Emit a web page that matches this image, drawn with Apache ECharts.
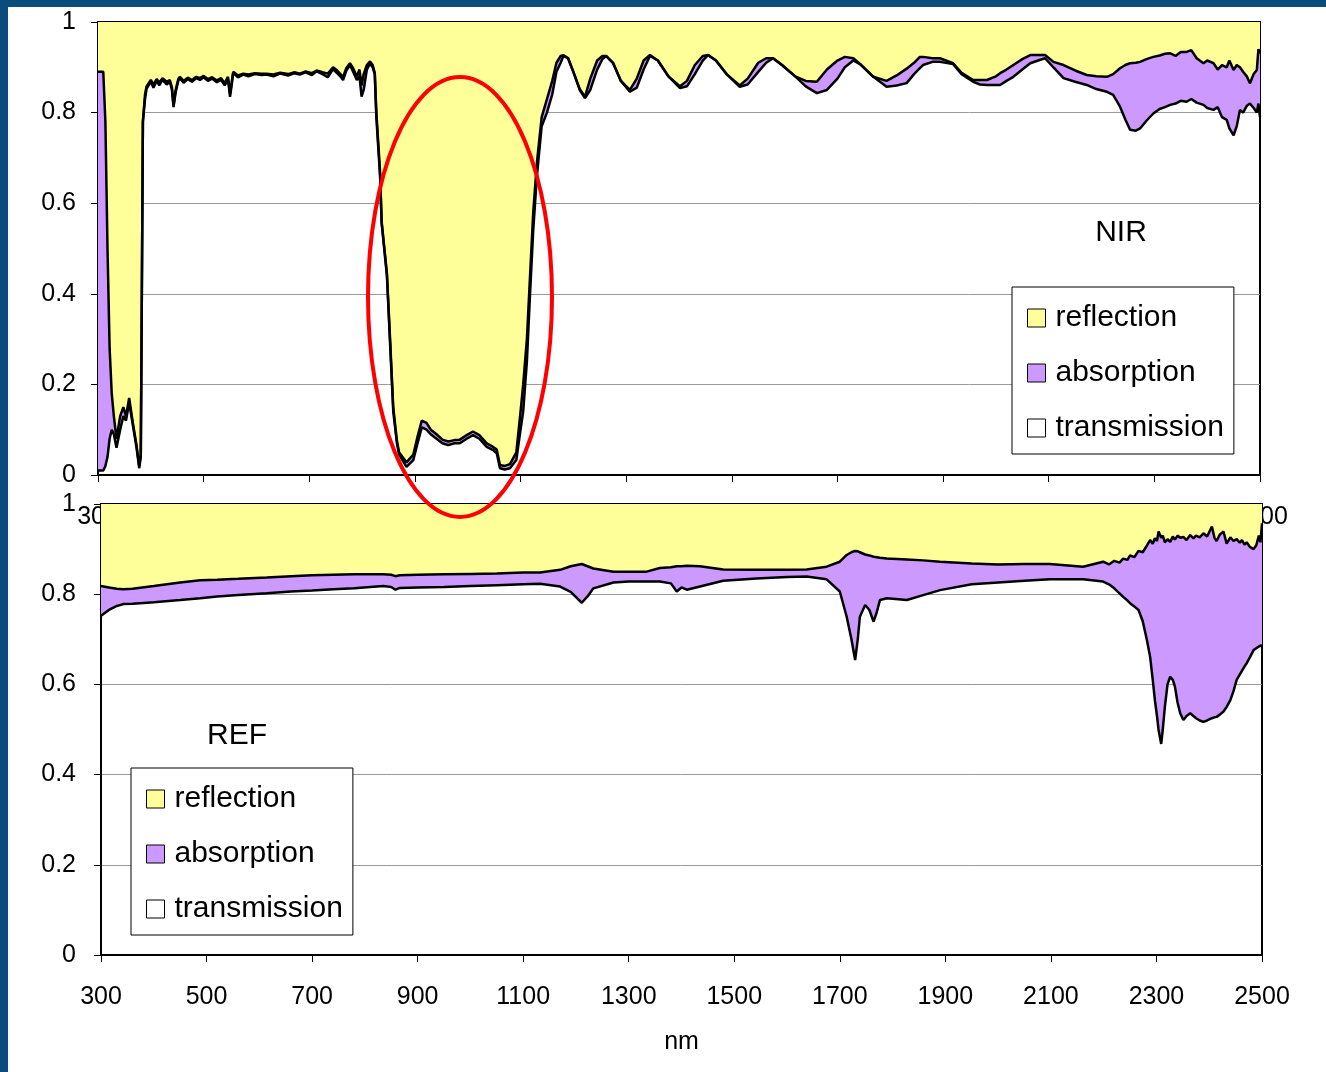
<!DOCTYPE html>
<html>
<head>
<meta charset="utf-8">
<script src="https://cdn.jsdelivr.net/npm/echarts@6/dist/echarts.min.js"></script>
<style>
  html, body { margin: 0; padding: 0; background: #fff; }
  .chart { position: absolute; left: 0; top: 0; width: 1326px; height: 1072px; }
</style>
</head>
<body>
<div id="nirChart" class="chart"></div>
<div id="refChart" class="chart"></div>
<script>
// NIR film: wavelength, transmission, and upper edge of absorption (transmission + absorption)
const nirNm = [300, 310, 314, 318, 322, 326, 330, 335, 342, 348, 353, 359, 366, 373, 378, 381, 383, 385, 389, 392,
  400, 405, 411, 416, 422, 430, 436, 440, 443, 447, 452, 455, 462, 470, 478, 486, 493, 500, 508, 516,
  525, 533, 540, 546, 550, 553, 556, 565, 575, 585, 597, 610, 619, 632, 645, 660, 672, 682, 693, 705,
  714, 725, 735, 745, 752, 760, 764, 770, 777, 783, 790, 795, 799, 803, 809, 815, 820, 824, 827, 834,
  837, 847, 853, 859, 866, 870, 884, 897, 905, 913, 922, 930, 941, 952, 963, 975, 985, 998, 1010, 1022,
  1036, 1048, 1055, 1061, 1070, 1080, 1092, 1100, 1105, 1112, 1118, 1124, 1131, 1140, 1150, 1160, 1168, 1176, 1181, 1190,
  1200, 1212, 1222, 1232, 1245, 1255, 1262, 1275, 1290, 1307, 1320, 1333, 1345, 1360, 1380, 1402, 1415, 1430, 1445, 1455,
  1470, 1490, 1515, 1530, 1550, 1565, 1578, 1595, 1620, 1640, 1661, 1680, 1700, 1714, 1730, 1745, 1768, 1793, 1812, 1831,
  1845, 1856, 1862, 1880, 1894, 1919, 1935, 1957, 1970, 1983, 2000, 2008, 2020, 2033, 2050, 2065, 2080, 2093, 2109, 2128,
  2150, 2172, 2190, 2210, 2222, 2235, 2245, 2254, 2265, 2273, 2285, 2298, 2310, 2320, 2330, 2340, 2350, 2361, 2370, 2380,
  2393, 2400, 2412, 2420, 2428, 2437, 2442, 2450, 2456, 2462, 2468, 2475, 2481, 2488, 2494, 2497, 2500];
const nirTrans = [0.01, 0.01, 0.02, 0.04, 0.08, 0.10, 0.09, 0.06, 0.10, 0.13, 0.12, 0.16, 0.11, 0.06, 0.015, 0.04, 0.40, 0.78, 0.83, 0.853,
  0.868, 0.855, 0.870, 0.860, 0.872, 0.862, 0.868, 0.850, 0.812, 0.845, 0.870, 0.876, 0.866, 0.874, 0.868, 0.876, 0.872, 0.878, 0.870, 0.875,
  0.867, 0.872, 0.860, 0.875, 0.835, 0.860, 0.888, 0.878, 0.884, 0.880, 0.885, 0.883, 0.884, 0.880, 0.886, 0.882, 0.887, 0.884, 0.889, 0.883,
  0.891, 0.885, 0.878, 0.896, 0.888, 0.878, 0.872, 0.892, 0.905, 0.890, 0.872, 0.880, 0.835, 0.850, 0.895, 0.908, 0.900, 0.885, 0.790, 0.660,
  0.556, 0.440, 0.290, 0.140, 0.070, 0.045, 0.018, 0.033, 0.070, 0.105, 0.100, 0.090, 0.080, 0.070, 0.066, 0.070, 0.070, 0.080, 0.088, 0.080,
  0.062, 0.055, 0.048, 0.015, 0.012, 0.015, 0.033, 0.100, 0.140, 0.250, 0.400, 0.540, 0.660, 0.770, 0.800, 0.840, 0.890, 0.910, 0.925, 0.920,
  0.890, 0.850, 0.832, 0.850, 0.895, 0.918, 0.925, 0.910, 0.870, 0.846, 0.855, 0.895, 0.925, 0.915, 0.880, 0.854, 0.858, 0.885, 0.915, 0.927,
  0.915, 0.885, 0.857, 0.862, 0.890, 0.910, 0.920, 0.905, 0.880, 0.858, 0.843, 0.850, 0.875, 0.900, 0.915, 0.905, 0.879, 0.857, 0.860, 0.865,
  0.885, 0.898, 0.905, 0.912, 0.912, 0.907, 0.885, 0.868, 0.862, 0.861, 0.861, 0.861, 0.870, 0.879, 0.895, 0.909, 0.915, 0.920, 0.900, 0.876,
  0.868, 0.861, 0.852, 0.846, 0.839, 0.813, 0.785, 0.762, 0.760, 0.765, 0.782, 0.798, 0.808, 0.812, 0.817, 0.820, 0.826, 0.824, 0.830, 0.822,
  0.817, 0.810, 0.806, 0.812, 0.790, 0.784, 0.765, 0.750, 0.770, 0.806, 0.800, 0.815, 0.820, 0.810, 0.800, 0.820, 0.790];
const nirTop = [0.89, 0.89, 0.78, 0.50, 0.28, 0.18, 0.13, 0.08, 0.13, 0.15, 0.13, 0.17, 0.115, 0.065, 0.02, 0.045, 0.40, 0.78, 0.84, 0.858,
  0.872, 0.862, 0.874, 0.866, 0.876, 0.868, 0.872, 0.855, 0.816, 0.850, 0.874, 0.879, 0.870, 0.877, 0.872, 0.879, 0.876, 0.881, 0.874, 0.878,
  0.871, 0.876, 0.865, 0.879, 0.842, 0.866, 0.890, 0.882, 0.886, 0.884, 0.887, 0.886, 0.886, 0.884, 0.888, 0.885, 0.889, 0.886, 0.891, 0.887,
  0.893, 0.889, 0.886, 0.900, 0.894, 0.884, 0.878, 0.898, 0.909, 0.898, 0.880, 0.895, 0.860, 0.885, 0.905, 0.913, 0.905, 0.888, 0.800, 0.670,
  0.560, 0.445, 0.300, 0.150, 0.075, 0.050, 0.028, 0.045, 0.085, 0.120, 0.115, 0.100, 0.090, 0.078, 0.074, 0.077, 0.078, 0.088, 0.096, 0.088,
  0.070, 0.062, 0.056, 0.022, 0.020, 0.024, 0.050, 0.140, 0.200, 0.300, 0.440, 0.580, 0.690, 0.790, 0.830, 0.870, 0.910, 0.925, 0.927, 0.920,
  0.890, 0.852, 0.835, 0.875, 0.915, 0.925, 0.925, 0.910, 0.870, 0.850, 0.875, 0.915, 0.927, 0.915, 0.880, 0.858, 0.870, 0.905, 0.925, 0.927,
  0.915, 0.885, 0.860, 0.875, 0.910, 0.920, 0.920, 0.905, 0.880, 0.870, 0.868, 0.895, 0.915, 0.923, 0.920, 0.905, 0.879, 0.870, 0.882, 0.897,
  0.910, 0.923, 0.923, 0.920, 0.920, 0.909, 0.888, 0.872, 0.872, 0.872, 0.880, 0.887, 0.895, 0.905, 0.918, 0.927, 0.927, 0.927, 0.912, 0.905,
  0.893, 0.883, 0.880, 0.879, 0.885, 0.898, 0.905, 0.909, 0.910, 0.912, 0.918, 0.923, 0.926, 0.930, 0.931, 0.925, 0.934, 0.934, 0.938, 0.920,
  0.909, 0.915, 0.909, 0.895, 0.905, 0.900, 0.915, 0.894, 0.905, 0.900, 0.890, 0.880, 0.865, 0.885, 0.894, 0.940, 0.930];

// REF film
const refNm = [300, 315, 330, 342, 360, 400, 450, 488, 520, 560, 614, 660, 700, 740, 780, 835, 850, 858, 866, 900,
  950, 1000, 1050, 1100, 1132, 1170, 1190, 1211, 1222, 1233, 1271, 1300, 1334, 1359, 1380, 1391, 1400, 1410, 1435, 1479,
  1542, 1600, 1637, 1675, 1700, 1713, 1722, 1729, 1734, 1738, 1748, 1756, 1764, 1770, 1776, 1789, 1827, 1858, 1890, 1950,
  2000, 2050, 2098, 2161, 2199, 2210, 2220, 2230, 2237, 2245, 2250, 2258, 2266, 2274, 2282, 2288, 2293, 2297, 2301, 2304,
  2309, 2312, 2316, 2321, 2326, 2331, 2335, 2340, 2345, 2351, 2357, 2364, 2370, 2375, 2382, 2389, 2396, 2405, 2410, 2414,
  2420, 2427, 2433, 2440, 2446, 2452, 2458, 2462, 2467, 2471, 2477, 2484, 2489, 2494, 2497, 2500];
const refTrans = [0.752, 0.765, 0.774, 0.778, 0.779, 0.782, 0.787, 0.791, 0.795, 0.798, 0.802, 0.806, 0.808, 0.811, 0.813, 0.818, 0.816, 0.810, 0.814, 0.815,
  0.816, 0.818, 0.820, 0.822, 0.823, 0.817, 0.805, 0.781, 0.795, 0.813, 0.826, 0.828, 0.828, 0.828, 0.824, 0.806, 0.815, 0.810, 0.817, 0.830,
  0.835, 0.838, 0.839, 0.833, 0.806, 0.750, 0.700, 0.654, 0.700, 0.750, 0.776, 0.765, 0.739, 0.760, 0.787, 0.791, 0.787, 0.798, 0.809, 0.822,
  0.826, 0.830, 0.833, 0.833, 0.828, 0.822, 0.813, 0.802, 0.794, 0.786, 0.780, 0.773, 0.765, 0.740, 0.698, 0.661, 0.610, 0.565, 0.530, 0.499,
  0.468, 0.500, 0.551, 0.600, 0.617, 0.610, 0.595, 0.560, 0.536, 0.521, 0.530, 0.536, 0.530, 0.525, 0.520, 0.517, 0.520, 0.525, 0.527, 0.528,
  0.533, 0.540, 0.550, 0.565, 0.585, 0.610, 0.622, 0.630, 0.640, 0.647, 0.660, 0.676, 0.680, 0.684, 0.685, 0.687];
const refTop = [0.818, 0.815, 0.812, 0.811, 0.812, 0.818, 0.826, 0.831, 0.832, 0.834, 0.837, 0.840, 0.842, 0.843, 0.844, 0.844, 0.843, 0.840, 0.842, 0.843,
  0.844, 0.845, 0.846, 0.848, 0.848, 0.854, 0.862, 0.867, 0.862, 0.857, 0.850, 0.850, 0.850, 0.858, 0.860, 0.862, 0.862, 0.863, 0.862, 0.855,
  0.854, 0.854, 0.855, 0.861, 0.872, 0.887, 0.893, 0.896, 0.895, 0.893, 0.888, 0.886, 0.883, 0.882, 0.881, 0.879, 0.877, 0.875, 0.872, 0.868,
  0.866, 0.867, 0.867, 0.861, 0.872, 0.866, 0.874, 0.870, 0.879, 0.876, 0.886, 0.882, 0.896, 0.893, 0.908, 0.920, 0.912, 0.924, 0.918, 0.939,
  0.925, 0.930, 0.915, 0.922, 0.916, 0.928, 0.921, 0.930, 0.925, 0.927, 0.920, 0.931, 0.924, 0.930, 0.926, 0.935, 0.928, 0.950, 0.925, 0.918,
  0.932, 0.939, 0.912, 0.926, 0.918, 0.922, 0.914, 0.920, 0.910, 0.915, 0.905, 0.900, 0.908, 0.930, 0.915, 0.957];

const legendNames = ["reflection", "absorption", "transmission"];
const colors = { reflection: "#ffff99", absorption: "#cc99ff", transmission: "#ffffff" };

const font = "'Liberation Sans', Arial, sans-serif";

// bands: purple fills from the transmission edge up to 1, yellow from the upper edge up to 1 on top of it
const makeSeries = (nm, trans, top) => {
  const base = { type: "line", symbol: "none", animation: false, silent: true };
  return [
    Object.assign({}, base, {
      name: "absorption",
      z: 3,
      itemStyle: { color: colors.absorption },
      lineStyle: { opacity: 0 },
      areaStyle: { color: colors.absorption, opacity: 1, origin: "end" },
      data: nm.map((x, i) => [x, trans[i]]),
    }),
    Object.assign({}, base, {
      name: "reflection",
      z: 4,
      itemStyle: { color: colors.reflection },
      lineStyle: { color: "#000", width: 2.5 },
      areaStyle: { color: colors.reflection, opacity: 1, origin: "end" },
      data: nm.map((x, i) => [x, top[i]]),
    }),
    Object.assign({}, base, {
      name: "transmission",
      z: 5,
      itemStyle: { color: colors.transmission },
      lineStyle: { color: "#000", width: 2.5 },
      data: nm.map((x, i) => [x, trans[i]]),
    }),
  ];
};

const makeLegend = (left, top) => ({
  orient: "vertical",
  left: left,
  top: top,
  padding: [14, 10, 9, 15],
  itemGap: 21,
  itemWidth: 18,
  itemHeight: 18,
  backgroundColor: "#fff",
  borderColor: "#000",
  borderWidth: 1,
  selectedMode: false,
  z: 10,
  textStyle: { fontFamily: font, fontSize: 30, color: "#000", lineHeight: 34, padding: [0, 0, 0, 5] },
  data: legendNames.map((n) => ({
    name: n,
    icon: "rect",
    itemStyle: { color: colors[n], borderColor: "#000", borderWidth: 1 },
  })),
});

const xAxisOpt = () => ({
  type: "value",
  min: 300,
  max: 2500,
  interval: 200,
  axisLine: { show: true, onZero: false, lineStyle: { color: "#000", width: 2 } },
  axisTick: { show: true, length: 7, lineStyle: { color: "#000", width: 1 } },
  axisLabel: { fontFamily: font, fontSize: 25, color: "#000", margin: 30, formatter: (v) => String(v) },
  splitLine: { show: false },
});

const yAxisOpt = (margin) => ({
  type: "value",
  min: 0,
  max: 1,
  interval: 0.2,
  axisLine: { show: true, onZero: false, lineStyle: { color: "#000", width: 2 } },
  axisTick: { show: true, length: 7, lineStyle: { color: "#000", width: 1 } },
  axisLabel: { fontFamily: font, fontSize: 25, color: "#000", margin: margin, padding: [5, 0, 0, 0], formatter: (v) => String(v) },
  splitLine: { show: true, lineStyle: { color: "#999", width: 1 } },
});

// upper chart (NIR) sits underneath; its x labels are mostly hidden by the lower chart
echarts.init(document.getElementById("nirChart")).setOption({
  backgroundColor: "#fff",
  animation: false,
  grid: { left: 98, top: 22, width: 1162, height: 453, show: true, backgroundColor: "transparent", borderColor: "#000", borderWidth: 2 },
  xAxis: xAxisOpt(),
  yAxis: yAxisOpt(22),
  legend: makeLegend(1012, 287),
  series: makeSeries(nirNm, nirTrans, nirTop),
  graphic: [
    { type: "text", x: 1121, y: 233, z: 20, style: { text: "NIR", fontFamily: font, fontSize: 30, fill: "#000", align: "center", verticalAlign: "middle" } },
  ],
});

echarts.init(document.getElementById("refChart")).setOption({
  backgroundColor: "transparent",
  animation: false,
  grid: { left: 101, top: 504, width: 1161, height: 451, show: true, backgroundColor: "#fff", borderColor: "#000", borderWidth: 2 },
  xAxis: Object.assign(xAxisOpt(), {
    name: "nm",
    nameLocation: "middle",
    nameGap: 75,
    nameTextStyle: { fontFamily: font, fontSize: 25, color: "#000" },
  }),
  yAxis: yAxisOpt(25),
  legend: makeLegend(131, 768),
  series: makeSeries(refNm, refTrans, refTop),
  graphic: [
    { type: "text", x: 237, y: 736, z: 20, style: { text: "REF", fontFamily: font, fontSize: 30, fill: "#000", align: "center", verticalAlign: "middle" } },
    { type: "ellipse", z: 30, shape: { cx: 460, cy: 297, rx: 92, ry: 220 }, style: { fill: null, stroke: "#ff0000", lineWidth: 4 } },
    { type: "rect", z: 40, shape: { x: 0, y: 0, width: 8, height: 1072 }, style: { fill: "#0b4d7a" } },
    { type: "rect", z: 40, shape: { x: 0, y: 0, width: 1326, height: 7 }, style: { fill: "#0b4d7a" } },
  ],
});
</script>
</body>
</html>
